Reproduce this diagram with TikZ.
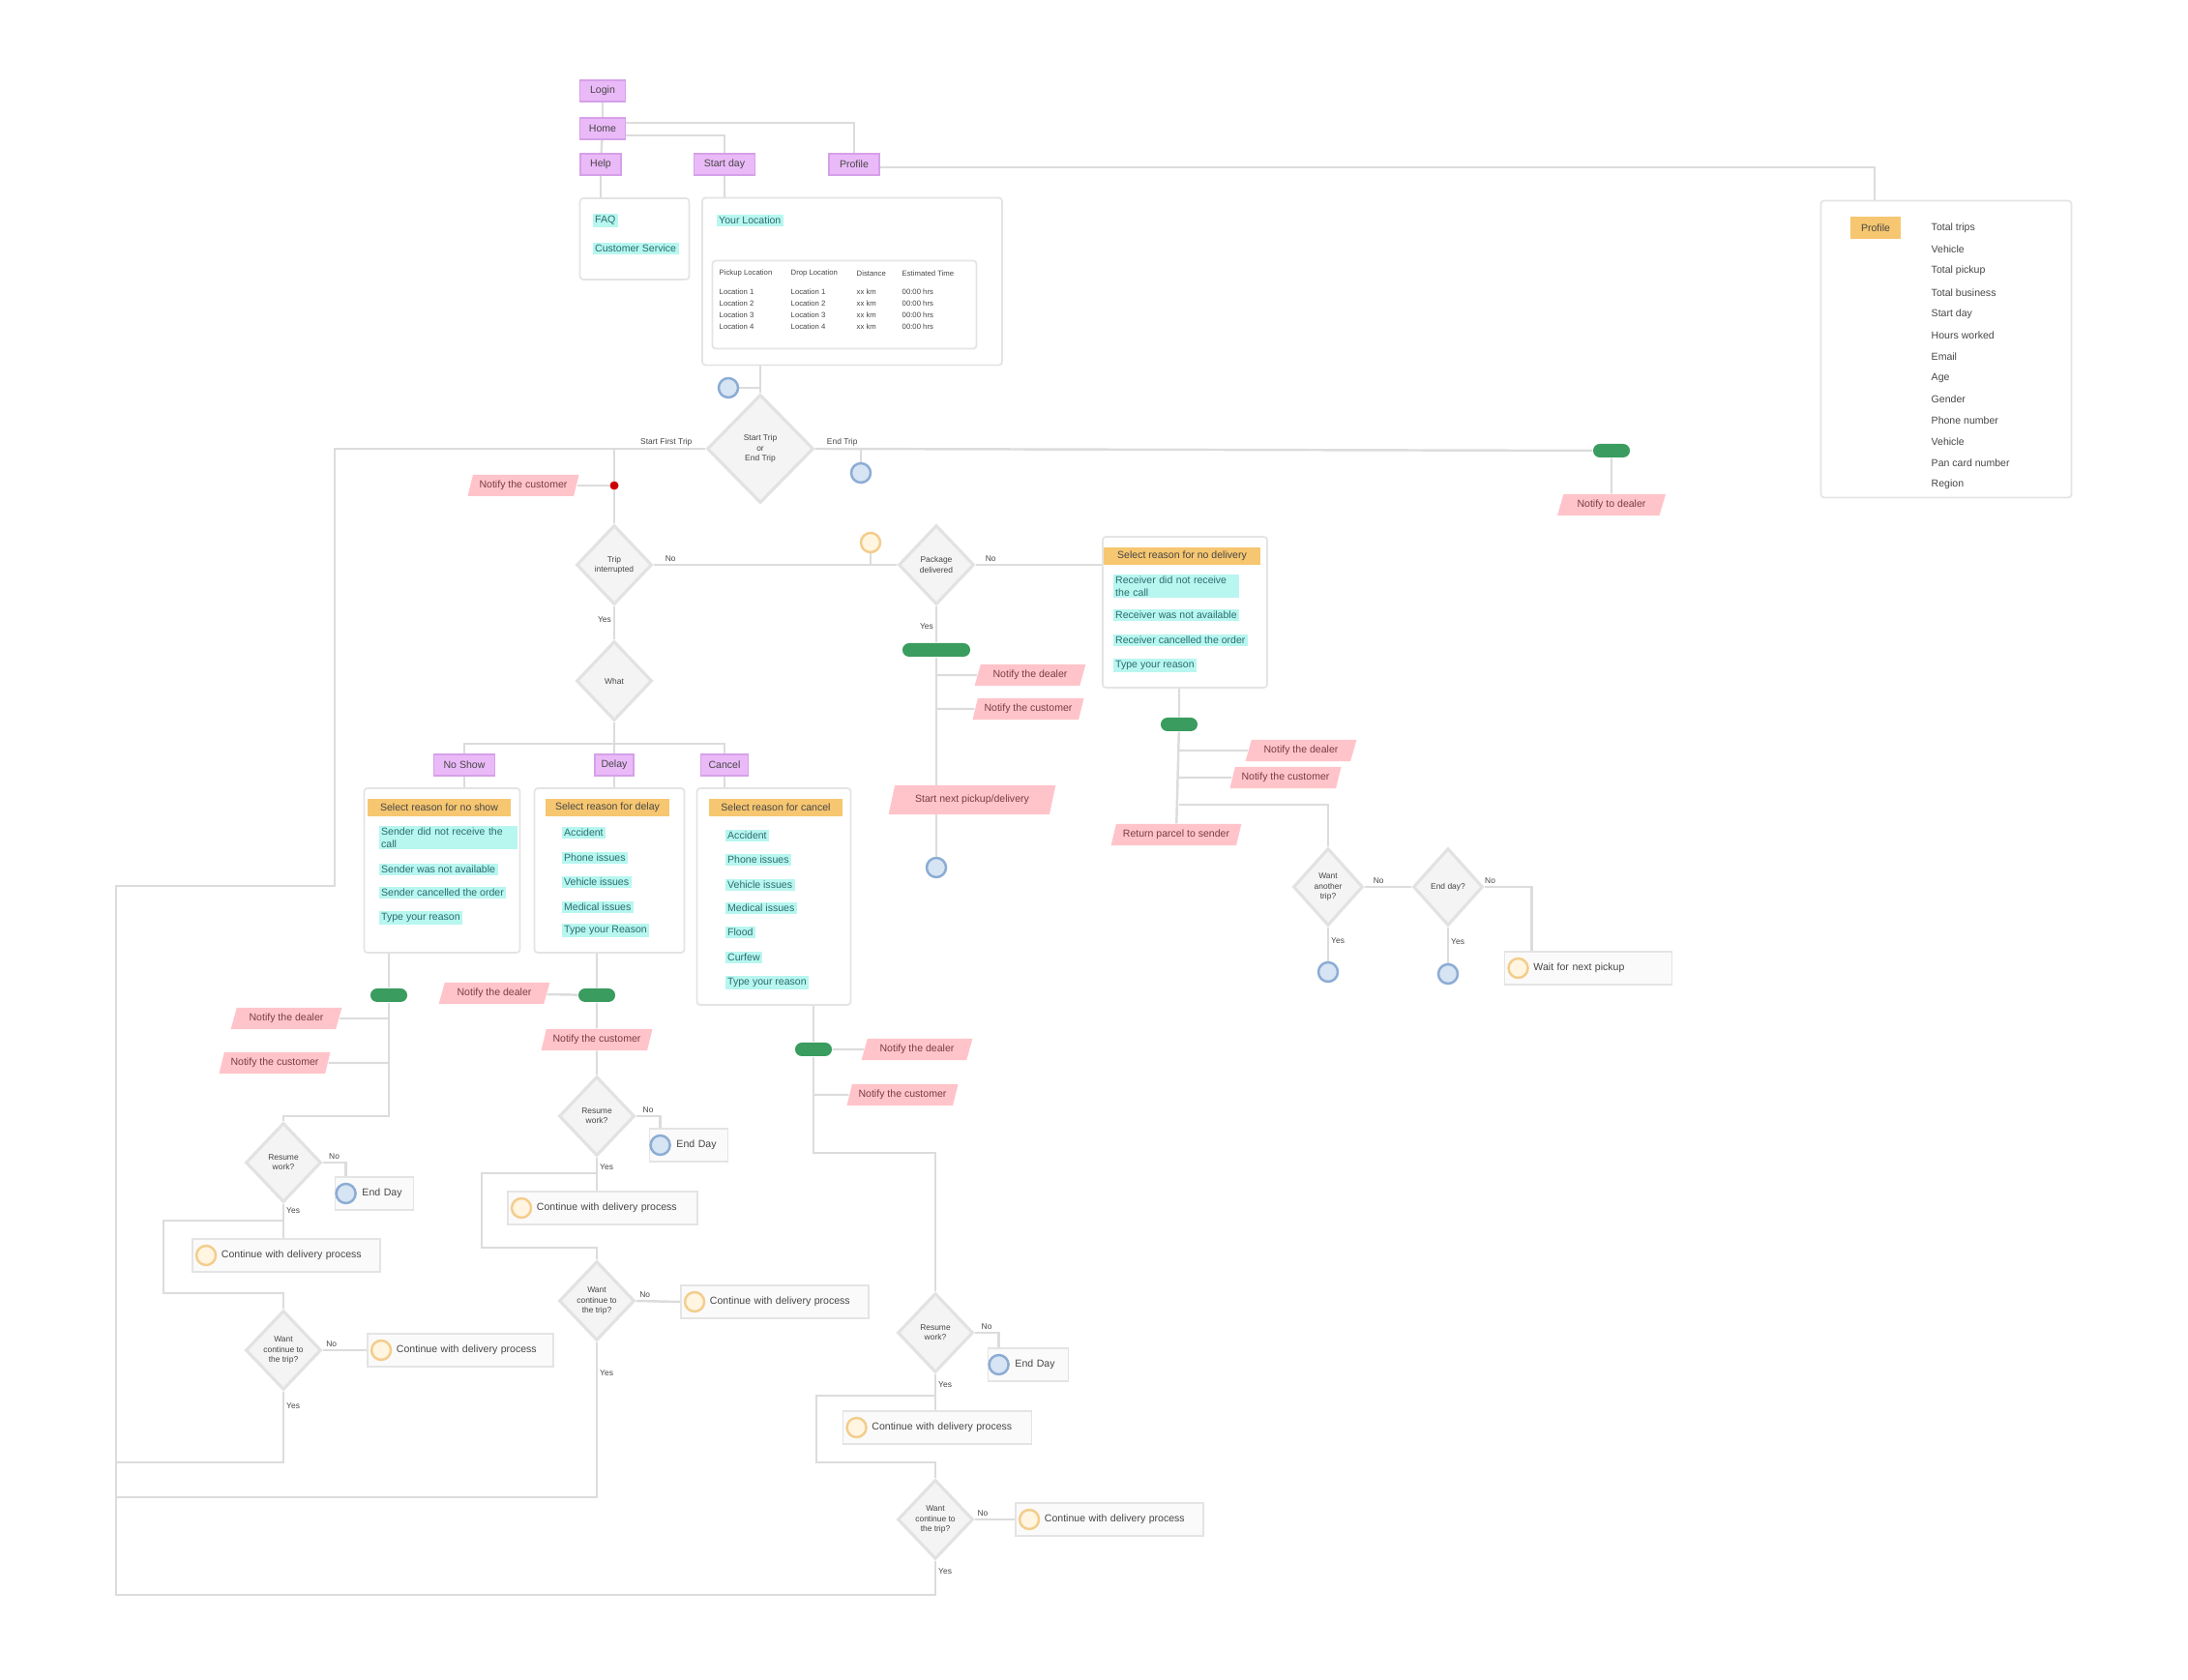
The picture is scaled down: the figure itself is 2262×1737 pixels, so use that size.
\documentclass[tikz,border=0pt]{standalone}
\usepackage{fontspec}
\setmainfont{Liberation Sans}
\usepackage{xcolor}
\usepackage{tikz}
\usetikzlibrary{shapes.geometric, positioning, calc, backgrounds}
\definecolor{tabc}{RGB}{234,186,248}
\definecolor{tabd}{RGB}{214,160,232}
\definecolor{hdrc}{RGB}{246,198,112}
\definecolor{optc}{RGB}{184,246,240}
\definecolor{opttxt}{RGB}{40,110,110}
\definecolor{notec}{RGB}{255,196,201}
\definecolor{notetxt}{RGB}{120,60,70}
\definecolor{pillc}{RGB}{58,156,94}
\definecolor{linec}{RGB}{220,220,220}
\definecolor{decc}{RGB}{244,244,244}
\definecolor{decd}{RGB}{226,226,226}
\definecolor{endc}{RGB}{214,228,243}
\definecolor{endd}{RGB}{140,172,212}
\definecolor{midc}{RGB}{255,245,224}
\definecolor{midd}{RGB}{243,205,140}
\definecolor{boxd}{RGB}{228,228,228}
\definecolor{boxc}{RGB}{250,250,250}
\definecolor{txt}{RGB}{70,70,70}
\newcommand{\nodefs}{\fontsize{3}{3.6}\selectfont}
\newcommand{\smallfs}{\fontsize{2.4}{2.9}\selectfont}
\newcommand{\cellfs}{\fontsize{2.2}{2.7}\selectfont}

\begin{document}
\begin{tikzpicture}[x=0.01cm, y=-0.01cm,
    conn/.style={draw=linec, line width=0.7pt},
    tab/.style={rectangle, fill=tabc, draw=tabd, line width=0.3pt,
      minimum height=0.22cm, inner sep=0.02cm, font=\nodefs, text=txt},
    panel/.style={rectangle, draw=boxd, fill=white, line width=0.5pt, rounded corners=1pt},
    hdr/.style={rectangle, fill=hdrc, minimum height=0.18cm, inner sep=0.02cm,
      font=\nodefs, text=txt},
    opt/.style={rectangle, fill=optc, anchor=west, inner xsep=0.025cm, inner ysep=0.02cm,
      minimum height=0.12cm, align=left, font=\nodefs, text=opttxt},
    item/.style={anchor=west, inner sep=0.01cm, font=\nodefs, text=txt},
    cell/.style={anchor=west, inner sep=0, font=\cellfs, text=txt},
    note/.style={trapezium, trapezium left angle=68, trapezium right angle=112,
      trapezium stretches=true, fill=notec, minimum width=1.15cm, minimum height=0.22cm,
      inner sep=0.01cm, font=\nodefs, text=notetxt},
    pill/.style={rectangle, rounded corners=0.07cm, fill=pillc, minimum width=0.38cm,
      minimum height=0.14cm, inner sep=0},
    dec/.style={diamond, fill=decc, draw=decd, line width=0.9pt, minimum width=0.78cm,
      minimum height=0.82cm, inner sep=0, align=center, font=\smallfs, text=txt},
    evend/.style={circle, fill=endc, draw=endd, line width=0.7pt, minimum size=0.2cm, inner sep=0},
    evmid/.style={circle, fill=midc, draw=midd, line width=0.7pt, minimum size=0.2cm, inner sep=0},
    task/.style={rectangle, draw=boxd, fill=boxc, line width=0.5pt, minimum height=0.28cm,
      text width=#1, align=left, inner xsep=0.02cm, font=\nodefs, text=txt},
    lbl/.style={font=\smallfs, text=txt, inner sep=0.02cm},
    reddot/.style={circle, fill=red!80!black, minimum size=0.09cm, inner sep=0}
  ]
  \useasboundingbox (0,0) rectangle (2262,1737);

  % navigation
  \node[tab, minimum width=0.47cm] (login) at (623,94) {Login};
  \node[tab, minimum width=0.47cm] (home) at (623,133) {Home};
  \node[tab, minimum width=0.42cm] (help) at (621,170) {Help};
  \node[tab, minimum width=0.63cm] (sday) at (749,170) {Start day};
  \node[tab, minimum width=0.52cm] (prof) at (883,170) {Profile};

  \node[panel, minimum width=1.13cm, minimum height=0.84cm] (helpbox) at (656,247) {};
  \node[opt] (faq) at (612,228) {FAQ};
  \node[opt] (cserv) at (612,257) {Customer Service};

  \node[panel, minimum width=3.10cm, minimum height=1.73cm] (sdbox) at (881,291) {};
  \node[opt] (loc) at (740,228) {Your Location};
  \node[panel, minimum width=2.73cm, minimum height=0.91cm] (tbl) at (873,315) {};
  \foreach \cx/\t [count=\i] in {743/Pickup Location, 817/Drop Location, 885/Distance, 932/Estimated Time}
    \node[cell] (th\i) at (\cx,283) {\t};
  \foreach \ry [count=\i] in {302,314,326,338} {
    \node[cell] (pk\i) at (743,\ry) {Location \i};
    \node[cell] (dr\i) at (817,\ry) {Location \i};
    \node[cell] (ds\i) at (885,\ry) {xx km};
    \node[cell] (et\i) at (932,\ry) {00:00 hrs};
  }

  % profile
  \node[panel, minimum width=2.59cm, minimum height=3.07cm] (pbox) at (2012,361) {};
  \node[hdr, minimum width=0.52cm, minimum height=0.23cm] (ptag) at (1939,236) {Profile};
  \foreach \t [count=\i] in {Total trips, Vehicle, Total pickup, Total business, Start day,
      Hours worked, Email, Age, Gender, Phone number, Vehicle, Pan card number, Region}
    \node[item] (pl\i) at (1995,{213.9+22.1*\i}) {\t};

  % start / end
  \node[evend] (e0) at (753,401) {};
  \node[dec, minimum width=1.1cm, minimum height=1.12cm] (sdec) at (786,464) {Start Trip\\or\\End Trip};
  \coordinate (j0) at (635,464);
  \node[reddot] (rdot) at (635,502) {};
  \node[note] (ncust0) at (541,502) {Notify the customer};
  \node[pill] (endp) at (1666,466) {};
  \node[evend] (e1) at (890,489) {};
  \node[note, minimum width=1.12cm] (ndeal0) at (1666,522) {Notify to dealer};

  \node[dec] (intr) at (635,584) {Trip\\interrupted};
  \node[evmid] (e2) at (900,561) {};
  \node[dec] (deliv) at (968,584) {Package\\delivered};

  % no delivery
  \node[panel, minimum width=1.70cm, minimum height=1.56cm] (ndbox) at (1225,633) {};
  \node[hdr, minimum width=1.62cm] (ndh) at (1222,575) {Select reason for no delivery};
  \node[opt, text width=1.25cm] (nd1) at (1150,606) {Receiver did not receive the call};
  \node[opt] (nd2) at (1150,636) {Receiver was not available};
  \node[opt] (nd3) at (1150,662) {Receiver cancelled the order};
  \node[opt] (nd4) at (1150,688) {Type your reason};
  \node[pill] (ndp) at (1219,749) {};
  \node[note] (ndeal2) at (1345,776) {Notify the dealer};
  \node[note] (ncust2) at (1329,804) {Notify the customer};
  \node[note, minimum width=1.35cm] (ret) at (1216,863) {Return parcel to sender};
  \coordinate (j1) at (1219,832);
  \node[dec, minimum width=0.72cm, minimum height=0.8cm] (again) at (1373,917) {Want\\another\\trip?};
  \node[dec, minimum width=0.72cm, minimum height=0.8cm] (eday) at (1497,917) {End day?};
  \node[evend] (e4) at (1373,1005) {};
  \node[evend] (e5) at (1497,1007) {};
  \node[task=1.69cm] (wait) at (1642,1001) {\hspace*{0.28cm}Wait for next pickup};
  \node[evmid] (e6) at ([xshift=0.15cm]wait.west) {};

  % delivered
  \node[pill, minimum width=0.7cm] (ypill) at (968,672) {};
  \node[note] (ndeal1) at (1065,698) {Notify the dealer};
  \node[note] (ncust1) at (1063,733) {Notify the customer};
  \node[note, minimum width=1.73cm, minimum height=0.3cm] (nxt) at (1005,827) {Start next pickup/delivery};
  \node[evend] (e3) at (968,897) {};

  % interruption type
  \node[dec] (what) at (635,704) {What};
  \coordinate (j2) at (635,769);
  \node[tab, minimum width=0.63cm] (nshow) at (480,791) {No Show};
  \node[tab, minimum width=0.40cm] (delay) at (635,791) {Delay};
  \node[tab, minimum width=0.49cm] (cancel) at (749,791) {Cancel};

  \node[panel, minimum width=1.61cm, minimum height=1.70cm] (nsbox) at (457,900) {};
  \node[hdr, minimum width=1.47cm] (nsh) at (454,835) {Select reason for no show};
  \node[opt, text width=1.38cm] (ns1) at (391,866) {Sender did not receive the call};
  \foreach \t/\ry [count=\i from 2] in {Sender was not available/899, Sender cancelled the order/923, Type your reason/949}
    \node[opt] (ns\i) at (391,\ry) {\t};

  \node[panel, minimum width=1.55cm, minimum height=1.70cm] (dlbox) at (630,900) {};
  \node[hdr, minimum width=1.27cm] (dlh) at (628,835) {Select reason for delay};
  \foreach \t/\ry [count=\i] in {Accident/861, Phone issues/887, Vehicle issues/912, Medical issues/938, Type your Reason/962}
    \node[opt] (dl\i) at (580,\ry) {\t};

  \node[panel, minimum width=1.59cm, minimum height=2.24cm] (cnbox) at (800,927) {};
  \node[hdr, minimum width=1.38cm] (cnh) at (802,835) {Select reason for cancel};
  \foreach \t/\ry [count=\i] in {Accident/864, Phone issues/889, Vehicle issues/915, Medical issues/939, Flood/964, Curfew/990, Type your reason/1016}
    \node[opt] (cn\i) at (749,\ry) {\t};

  % no show flow
  \node[pill] (nsp) at (402,1029) {};
  \node[note] (ndeal3) at (296,1053) {Notify the dealer};
  \node[note] (ncust3) at (284,1099) {Notify the customer};
  \coordinate (k1) at (402,1154);
  \node[dec] (res1) at (293,1202) {Resume\\work?};
  \node[task=0.77cm] (end1) at (387,1234) {\hspace*{0.26cm}End Day};
  \node[evend] (e7) at ([xshift=0.12cm]end1.west) {};
  \node[task=1.90cm] (cont1) at (296,1298) {\hspace*{0.28cm}Continue with delivery process};
  \node[evmid] (e8) at ([xshift=0.15cm]cont1.west) {};
  \coordinate (b1) at (293,1262);
  \coordinate (b1l) at (169,1337);
  \node[dec] (want1) at (293,1396) {Want\\continue to\\the trip?};
  \node[task=1.88cm] (cont2) at (476,1396) {\hspace*{0.28cm}Continue with delivery process};
  \node[evmid] (e9) at ([xshift=0.15cm]cont2.west) {};
  \coordinate (ly1) at (120,1512);

  % delay flow
  \node[pill] (dlp) at (617,1029) {};
  \node[note] (ndeal4) at (511,1027) {Notify the dealer};
  \node[note] (ncust4) at (617,1075) {Notify the customer};
  \node[dec] (res2) at (617,1154) {Resume\\work?};
  \node[task=0.77cm] (end2) at (712,1184) {\hspace*{0.26cm}End Day};
  \node[evend] (e10) at ([xshift=0.12cm]end2.west) {};
  \node[task=1.92cm] (cont3) at (623,1249) {\hspace*{0.28cm}Continue with delivery process};
  \node[evmid] (e11) at ([xshift=0.15cm]cont3.west) {};
  \coordinate (b2) at (617,1213);
  \coordinate (b2l) at (498,1290);
  \node[dec] (want2) at (617,1345) {Want\\continue to\\the trip?};
  \node[task=1.90cm] (cont4) at (801,1346) {\hspace*{0.28cm}Continue with delivery process};
  \node[evmid] (e12) at ([xshift=0.15cm]cont4.west) {};
  \coordinate (ly2) at (120,1548);

  % cancel flow
  \node[pill] (cnp) at (841,1085) {};
  \node[note] (ndeal5) at (948,1085) {Notify the dealer};
  \node[note] (ncust5) at (933,1132) {Notify the customer};
  \coordinate (k3) at (841,1192);
  \node[dec] (res3) at (967,1378) {Resume\\work?};
  \node[task=0.79cm] (end3) at (1063,1411) {\hspace*{0.26cm}End Day};
  \node[evend] (e13) at ([xshift=0.12cm]end3.west) {};
  \node[task=1.91cm] (cont5) at (969,1476) {\hspace*{0.28cm}Continue with delivery process};
  \node[evmid] (e14) at ([xshift=0.15cm]cont5.west) {};
  \coordinate (b3) at (967,1443);
  \coordinate (b3l) at (844,1512);
  \node[dec] (want3) at (967,1571) {Want\\continue to\\the trip?};
  \node[task=1.90cm] (cont6) at (1147,1571) {\hspace*{0.28cm}Continue with delivery process};
  \node[evmid] (e15) at ([xshift=0.15cm]cont6.west) {};

  % return loop
  \coordinate (lpb) at (120,1649);
  \coordinate (lpm) at (120,916);
  \coordinate (lpr) at (346,916);

  \begin{scope}[on background layer]
    \draw[conn] (login) -- (home);
    \draw[conn] (home) -- (help);
    \draw[conn] ([yshift=-0.07cm]home.east) -| (sday);
    \draw[conn] ([yshift=0.06cm]home.east) -| (prof);
    \draw[conn] (help) -- (help |- helpbox.north);
    \draw[conn] (sday) -- (sday |- sdbox.north);
    \draw[conn] ([yshift=-0.03cm]prof.east) -| ([xshift=-0.74cm]pbox.north);
    \foreach \cx in {810,877,925}
      \draw[conn, line width=0.4pt] (\cx,272) -- (\cx,359);

    \draw[conn] (sdbox.south -| sdec) -- (sdec);
    \draw[conn] (e0) -- (e0 -| sdec);
    \draw[conn] (sdec.west) -- node[lbl, above, pos=0.43] {Start First Trip} (j0);
    \draw[conn] (j0) -- (rdot) -- (intr);
    \draw[conn] (ncust0) -- (rdot);
    \draw[conn] (sdec.east) -- node[lbl, above, pos=0.035] {End Trip} (endp);
    \draw[conn] (e1) -- (e1 |- sdec);
    \draw[conn] (endp) -- (ndeal0);

    \draw[conn] (intr.east) -- node[lbl, above, pos=0.07] {No} (deliv.west);
    \draw[conn] (e2) -- (e2 |- intr);
    \draw[conn] (deliv.east) -- node[lbl, above, pos=0.12] {No} (ndbox.west |- deliv);
    \draw[conn] (ndbox.south -| ndp) -- (ndp) -- (ret);
    \draw[conn] (ndeal2) -- (ndeal2 -| ndp);
    \draw[conn] (ncust2) -- (ncust2 -| ndp);
    \draw[conn] (j1) -| (again);
    \draw[conn] (again.east) -- node[lbl, above, pos=0.3] {No} (eday.west);
    \draw[conn] (again.south) -- node[lbl, right, pos=0.4] {Yes} (e4);
    \draw[conn] (eday.south) -- node[lbl, right, pos=0.4] {Yes} (e5);
    \draw[conn] (eday.east) -- node[lbl, above, pos=0.3] {No} (eday.east -| wait.north west)
      -| ([xshift=0.29cm]wait.north west);

    \draw[conn] (deliv.south) -- node[lbl, left, pos=0.55] {Yes} (ypill) -- (e3);
    \draw[conn] (ndeal1) -- (ndeal1 -| ypill);
    \draw[conn] (ncust1) -- (ncust1 -| ypill);

    \draw[conn] (intr.south) -- node[lbl, left, pos=0.4] {Yes} (what);
    \draw[conn] (what) -- (delay);
    \draw[conn] (nshow.north) |- (j2) -| (cancel.north);
    \draw[conn] (nshow) -- (nshow |- nsbox.north);
    \draw[conn] (delay) -- (delay |- dlbox.north);
    \draw[conn] (cancel) -- (cancel |- cnbox.north);

    \draw[conn] (nsbox.south -| nsp) -- (nsp) -- (k1) -| (res1);
    \draw[conn] (ndeal3) -- (ndeal3 -| nsp);
    \draw[conn] (ncust3) -- (ncust3 -| nsp);
    \draw[conn] (res1.east) -| node[lbl, above, pos=0.25] {No} (e7);
    \draw[conn] (res1.south) -- node[lbl, right, pos=0.2] {Yes} (res1.south |- cont1.north);
    \draw[conn] (b1) -| (b1l) -| (want1);
    \draw[conn] (want1.east) -- node[lbl, above, pos=0.2] {No} (cont2.west);
    \draw[conn] (want1.south) |- node[lbl, right, pos=0.1] {Yes} (ly1);

    \draw[conn] (dlbox.south -| dlp) -- (dlp) -- (ncust4) -- (res2);
    \draw[conn] (ndeal4) -- (dlp);
    \draw[conn] (res2.east) -| node[lbl, above, pos=0.25] {No} (e10);
    \draw[conn] (res2.south) -- node[lbl, right, pos=0.3] {Yes} (res2.south |- cont3.north);
    \draw[conn] (b2) -| (b2l) -| (want2);
    \draw[conn] (want2.east) -- node[lbl, above, pos=0.2] {No} (cont4.west);
    \draw[conn] (want2.south) |- node[lbl, right, pos=0.1] {Yes} (ly2);

    \draw[conn] (cnbox.south -| cnp) -- (cnp) -- (k3) -| (res3);
    \draw[conn] (ndeal5) -- (cnp);
    \draw[conn] (ncust5) -- (ncust5 -| cnp);
    \draw[conn] (res3.east) -| node[lbl, above, pos=0.25] {No} (e13);
    \draw[conn] (res3.south) -- node[lbl, right, pos=0.3] {Yes} (res3.south |- cont5.north);
    \draw[conn] (b3) -| (b3l) -| (want3);
    \draw[conn] (want3.east) -- node[lbl, above, pos=0.2] {No} (cont6.west);
    \draw[conn] (want3.south) |- node[lbl, right, pos=0.15] {Yes} (lpb) -- (lpm) -- (lpr) |- (j0);
  \end{scope}
\end{tikzpicture}
\end{document}
